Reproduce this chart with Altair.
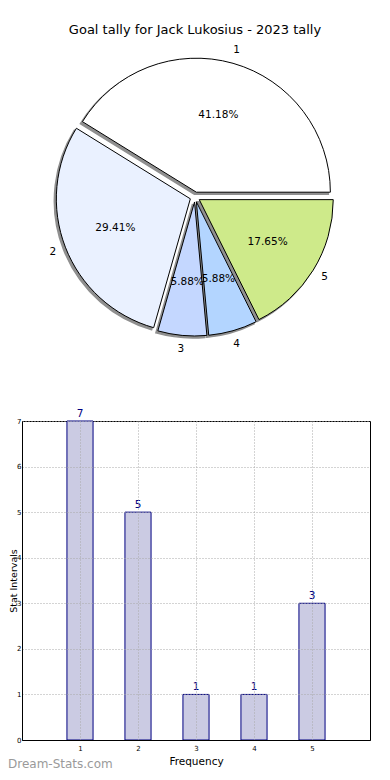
import altair as alt
import pandas as pd

# ---------------- data ----------------
title_text = "Goal tally for Jack Lukosius - 2023 tally"
slice_labels = ["1", "2", "3", "4", "5"]
slice_goals = [7, 5, 1, 1, 3]
slice_colors = ["#FFFFFF", "#EAF1FF", "#C4D7FF", "#B3D5FF", "#CEEA8A"]

bar_freq = [1, 2, 3, 4, 5]
bar_counts = [7, 5, 1, 1, 3]
x_ticks = [1, 2, 3, 4, 5]
y_ticks = [0, 1, 2, 3, 4, 5, 6, 7]
x_title = "Frequency"
y_title = "Stat Intervals"
watermark = "Dream-Stats.com"

FONT = "DejaVu Sans"

pie_df = pd.DataFrame({"label": slice_labels, "goals": slice_goals,
                       "color": slice_colors, "order": list(range(len(slice_labels)))})
bar_df = pd.DataFrame({"freq": bar_freq, "count": bar_counts})

# layout (pixels, relative to the bar plot area's top-left corner)
LEFT = 14
CX, CY, R, EXP = 195 - 8 - LEFT, -224, 134, 5
W, H = 348, 319

pie_base = (
    alt.Chart(pie_df)
    .transform_window(cum="sum(goals)", sort=[alt.SortField("order")], frame=[None, 0])
    .transform_joinaggregate(total="sum(goals)")
    .transform_calculate(
        a0="2*PI*(datum.cum - datum.goals)/datum.total",
        a1="2*PI*datum.cum/datum.total",
    )
    .transform_calculate(
        mid="(datum.a0 + datum.a1)/2",
        th0="PI/2 - datum.a0",
        th1="PI/2 - datum.a1",
        pct="format(100*datum.goals/datum.total, '.2f') + '%'",
    )
    .transform_calculate(
        px=f"{CX} + {EXP}*cos(datum.mid)",
        py=f"{CY} - {EXP}*sin(datum.mid)",
        sx=f"{CX} + {EXP}*cos(datum.mid) - 2",
        sy=f"{CY} - {EXP}*sin(datum.mid) + 2",
        tx=f"{CX} + ({EXP} + {0.6 * R})*cos(datum.mid)",
        ty=f"{CY} - ({EXP} + {0.6 * R})*sin(datum.mid)",
        lx=f"{CX} + ({EXP} + {1.1 * R})*cos(datum.mid)",
        ly=f"{CY} - ({EXP} + {1.1 * R})*sin(datum.mid)",
    )
)

shadow = pie_base.mark_arc(radius=R, fill="#8f8f8f", stroke="#8f8f8f", strokeWidth=1.5).encode(
    x=alt.X("sx:Q", scale=None),
    y=alt.Y("sy:Q", scale=None),
    theta=alt.Theta("th0:Q", scale=None, stack=False),
    theta2="th1:Q",
)

slices = pie_base.mark_arc(radius=R, stroke="black", strokeWidth=1).encode(
    x=alt.X("px:Q", scale=None),
    y=alt.Y("py:Q", scale=None),
    theta=alt.Theta("th0:Q", scale=None, stack=False),
    theta2="th1:Q",
    fill=alt.Fill("color:N", scale=None),
)

pct_text = pie_base.mark_text(font=FONT, fontSize=10.5, color="black").encode(
    x=alt.X("tx:Q", scale=None),
    y=alt.Y("ty:Q", scale=None),
    text="pct:N",
)

lab_text = pie_base.mark_text(font=FONT, fontSize=10.5, color="black").encode(
    x=alt.X("lx:Q", scale=None),
    y=alt.Y("ly:Q", scale=None),
    text="label:N",
)

title_mark = alt.Chart(pd.DataFrame({"t": [title_text]})).mark_text(
    font=FONT, fontSize=13, color="black", baseline="middle"
).encode(x=alt.value(CX), y=alt.value(-391), text="t:N")

# ---------------- bar chart ----------------
xs = alt.Scale(domain=[0, 6], nice=False, zero=False)
ys = alt.Scale(domain=[0, 7], nice=False)

grid_common = dict(gridColor="#a8a8a8", gridDash=[1, 2], gridWidth=1, domainColor="black",
                   labelFont=FONT, labelFontSize=7, labelColor="black", ticks=False,
                   format="d", titleFont=FONT, titleColor="black",
                   titleFontWeight="normal", zindex=1)

bars = (
    alt.Chart(bar_df)
    .transform_calculate(x0="datum.freq - 0.225", x1="datum.freq + 0.225")
    .mark_bar(fill="#CBCBE3", stroke="#000080", strokeWidth=1)
    .encode(
        x=alt.X("x0:Q", scale=xs,
                axis=alt.Axis(values=x_ticks, title=x_title, labelPadding=4,
                              titleFontSize=10.5, titleY=24, titleBaseline="alphabetic",
                              **grid_common)),
        x2="x1:Q",
        y=alt.Y("count:Q", scale=ys,
                axis=alt.Axis(values=y_ticks, title=y_title, labelPadding=1,
                              titleFontSize=9.5, titleX=-6, titleBaseline="alphabetic",
                              **grid_common)),
        y2=alt.datum(0),
    )
)

bar_labels = alt.Chart(bar_df).mark_text(
    font=FONT, fontSize=10.5, color="#000080", baseline="bottom", dy=-2
).encode(
    x=alt.X("freq:Q", scale=xs),
    y=alt.Y("count:Q", scale=ys),
    text="count:Q",
)

wm = alt.Chart(pd.DataFrame({"t": [watermark]})).mark_text(
    font=FONT, fontSize=12, color="#9a9a9a", align="left", baseline="alphabetic"
).encode(x=alt.value(-LEFT), y=alt.value(347), text="t:N")

chart = (
    alt.layer(bars, bar_labels, shadow, slices, pct_text, lab_text, title_mark, wm)
    .properties(
        width=W,
        height=H,
        autosize=alt.AutoSizeParams(type="none"),
        padding={"left": LEFT, "top": 413, "right": 12, "bottom": 32},
        background="white",
    )
    .configure_view(stroke="black", strokeWidth=1)
)

chart.save("out.html", embed_options={"renderer": "svg", "actions": False})
